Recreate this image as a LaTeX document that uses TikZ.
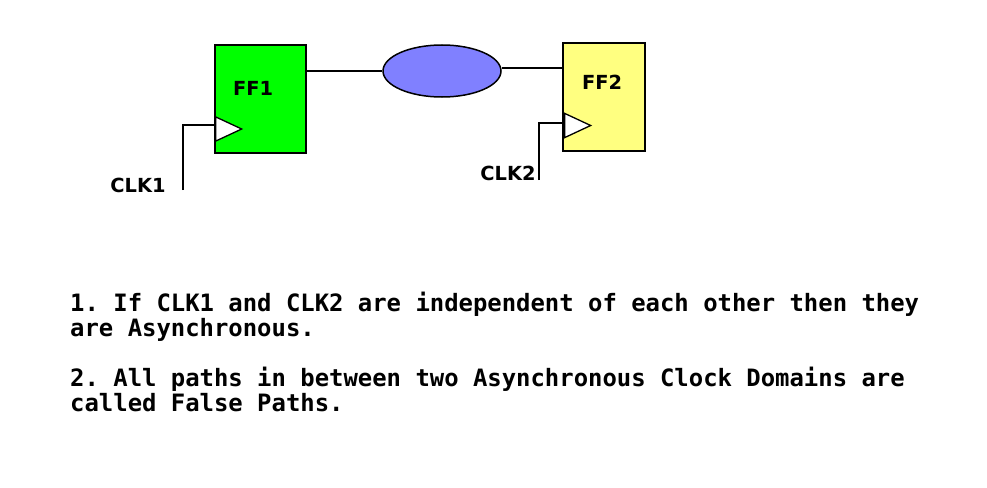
\documentclass[tikz,border=0pt]{standalone}
\usepackage{fontspec}
\setmainfont{DejaVu Sans}
\newfontfamily\monofont{DejaVu Sans Mono}
\usepackage{tikz}
\usetikzlibrary{shapes.geometric, positioning}
\definecolor{ffgreen}{RGB}{0,255,0}
\definecolor{ffyellow}{RGB}{255,255,128}
\definecolor{logicblue}{RGB}{128,128,255}
\tikzset{
  flop/.style={rectangle, draw, line width=1.5pt, inner sep=0pt},
  flopname/.style={font=\bfseries\fontsize{19.4}{22}\selectfont, inner sep=0pt},
  klok/.style={draw, line width=1.3pt, fill=white, isosceles triangle, isosceles triangle apex angle=50, inner sep=0pt, minimum height=26pt, anchor=west},
  tel/.style={draw, line width=1.5pt},
  note/.style={font=\monofont\bfseries\fontsize{23.9}{25}\selectfont\frenchspacing, align=left, anchor=north west, inner sep=0pt},
}
\begin{document}
\begin{tikzpicture}[x=1pt, y=-1pt]
  \useasboundingbox (0,0) rectangle (987,487);
  % flip-flops
  \node[flop, fill=ffgreen, minimum width=91pt, minimum height=108pt] (ff1) at (260.5,99) {};
  \node[flop, fill=ffyellow, minimum width=82pt, minimum height=108pt] (ff2) at (604,97) {};
  \node[flopname] (n1) at (253,88) {FF1};
  \node[flopname] (n2) at (602,82) {FF2};
  % combinational logic
  \node[ellipse, draw, line width=1.5pt, fill=logicblue, minimum width=118pt, minimum height=52pt] (logic) at (442,71) {};
  % clock pins
  \node[klok] (k1) at (215,129) {};
  \node[klok] (k2) at (564,125.5) {};
  % clock wires
  \coordinate (c1) at (183,190);
  \coordinate (c2) at (539,180);
  \node[flopname] (clk1) at (138,185) {CLK1};
  \node[flopname] (clk2) at (508,173) {CLK2};
  \draw[tel] (c1) |- (k1.west |- 0,125);
  \draw[tel] (c2) |- (k2.west |- 0,123);
  % data path
  \draw[tel] (ff1.east |- 0,71) -- (logic.west);
  \draw[tel] (logic.east |- 0,68) -- (ff2.west |- 0,68);
  % notes
  \node[note] (t1) at (70,291.5) {1. If CLK1 and CLK2 are independent of each other then they\\are Asynchronous.};
  \node[note] (t2) at (70,366.5) {2. All paths in between two Asynchronous Clock Domains are\\called False Paths.};
\end{tikzpicture}
\end{document}
